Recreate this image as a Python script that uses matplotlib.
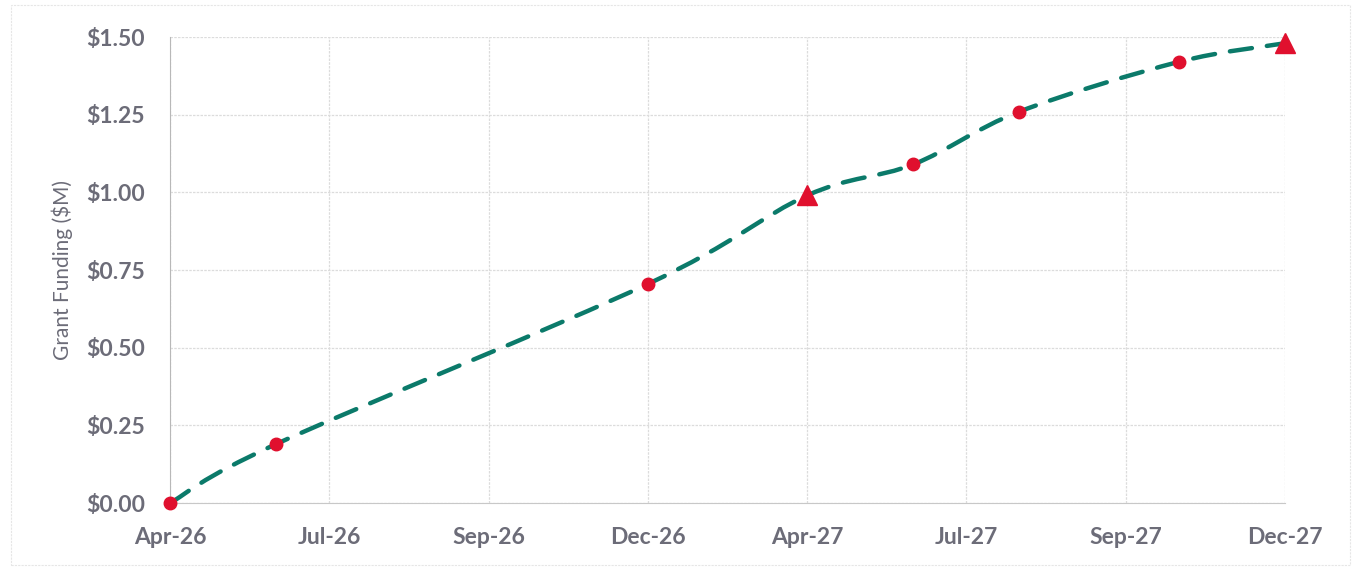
import numpy as np
import matplotlib
matplotlib.use("Agg")
from matplotlib import pyplot as plt
from matplotlib.path import Path
from matplotlib.patches import PathPatch, Rectangle

# x in axis units (Apr-26 = 0, Dec-27 = 21)
x_vals = [0, 2, 9, 12, 14, 16, 19, 21]
funding = [0.00, 0.19, 0.705, 0.99, 1.09, 1.26, 1.42, 1.48]
milestone = [False, False, False, True, False, False, False, True]

tick_pos = [0, 3, 6, 9, 12, 15, 18, 21]
tick_labels = ["Apr-26", "Jul-26", "Sep-26", "Dec-26", "Apr-27", "Jul-27", "Sep-27", "Dec-27"]
y_ticks = [0, 0.25, 0.5, 0.75, 1.0, 1.25, 1.5]

teal = "#0b7a6a"
red = "#e0102e"
grey = "#6c6c78"

plt.rcParams['font.family'] = ['Lato', 'DejaVu Sans']

fig = plt.figure(figsize=(13.61, 5.70), dpi=100)
ax = fig.add_axes([0.125, 0.1175, 0.819, 0.8175])

# smoothed line like Excel (catmull-rom -> bezier)
pts = np.column_stack([x_vals, funding])
verts = [pts[0]]
codes = [Path.MOVETO]
for i in range(len(pts) - 1):
    p0 = pts[i - 1] if i > 0 else pts[i]
    p1 = pts[i]
    p2 = pts[i + 1]
    p3 = pts[i + 2] if i + 2 < len(pts) else pts[i + 1]
    c1 = p1 + (p2 - p0) / 6
    c2 = p2 - (p3 - p1) / 6
    verts += [c1, c2, p2]
    codes += [Path.CURVE4] * 3
line = PathPatch(Path(verts, codes), fill=False, edgecolor=teal, lw=3.2,
                 linestyle=(0, (5.0, 3.4)), capstyle='round', zorder=3)
ax.add_patch(line)

for x, y, m in zip(x_vals, funding, milestone):
    if m:
        ax.plot(x, y, marker='^', ms=15, color=red, zorder=4, clip_on=False)
    else:
        ax.plot(x, y, marker='o', ms=9, color=red, zorder=4, clip_on=False)

ax.set_xlim(0, 21)
ax.set_ylim(0, 1.5)
ax.set_xticks(tick_pos)
ax.set_xticklabels(tick_labels)
ax.set_yticks(y_ticks)
ax.set_yticklabels(["$%.2f" % v for v in y_ticks])
ax.tick_params(length=0, labelsize=16.5, labelcolor=grey)
ax.tick_params(axis='x', pad=17)
ax.tick_params(axis='y', pad=18)
for lab in ax.get_xticklabels() + ax.get_yticklabels():
    lab.set_fontweight('bold')

ax.grid(True, color="#dcdcdc", lw=0.9, linestyle=(0, (2, 1)))
ax.set_axisbelow(True)
for s in ['top', 'right']:
    ax.spines[s].set_visible(False)
ax.spines['left'].set_color("#b8b8b8")
ax.spines['bottom'].set_color("#c8c8c8")

ax.set_ylabel("Grant Funding ($M)", fontsize=15, color=grey)
ax.yaxis.set_label_coords(-0.087, 0.5)

fig.patches.append(Rectangle((0.008, 0.008), 0.984, 0.984, transform=fig.transFigure,
                             fill=False, edgecolor="#e6e6e6", lw=0.8, linestyle=(0, (2, 1))))

fig.savefig("out.png", dpi=100)
